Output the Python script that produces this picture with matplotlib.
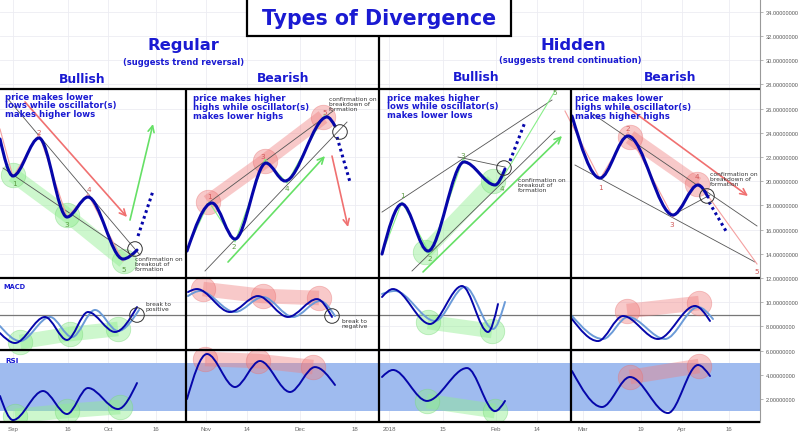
import matplotlib
matplotlib.use('Agg')
import matplotlib.pyplot as plt
from matplotlib.path import Path
from matplotlib.patches import PathPatch, Rectangle

# ---------------- axis ticks ----------------
X_TICKS = [13, 68, 108, 156, 206, 247, 300, 355, 389, 443, 496, 537, 583, 641, 682, 729]
X_LABELS = ['Sep', '16', 'Oct', '16', 'Nov', '14', 'Dec', '18', '2018', '15', 'Feb', '14',
            'Mar', '19', 'Apr', '16']
Y_TICKS = list(range(2, 35, 2))

# ---------------- price curves (x, price) ----------------
RBULL_X = [0, 13, 39, 67, 88, 123, 137]
RBULL_Y = [23.49, 20.43, 23.57, 17.04, 18.69, 13.57, 14.31]
RBEAR_X = [187, 212, 235, 266, 285, 327, 335]
RBEAR_Y = [14.23, 18.20, 15.22, 21.50, 20.02, 25.31, 24.56]
HBULL_X = [382, 402, 428, 464, 495, 505]
HBULL_Y = [13.98, 18.12, 14.23, 21.59, 19.69, 21.01]
HBEAR_X = [572, 600, 628, 673, 698, 708]
HBEAR_Y = [25.39, 20.26, 23.74, 17.21, 19.69, 18.69]

# ---------------- MACD (dark = macd, light = signal) ----------------
MACD_RBULL_X = [0, 15, 45, 67, 88, 115, 137]
MACD_RBULL_Y = [7.45, 6.63, 8.78, 6.88, 9.19, 7.54, 9.60]
SIG_RBULL_X = [0, 20, 50, 72, 95, 118, 139]
SIG_RBULL_Y = [8.03, 6.79, 8.78, 7.12, 9.36, 7.62, 9.36]
MACD_RBEAR_X = [188, 197, 230, 258, 288, 317, 332]
MACD_RBEAR_Y = [10.84, 11.09, 9.19, 10.51, 8.78, 10.26, 8.78]
SIG_RBEAR_X = [188, 200, 235, 263, 293, 320, 335]
SIG_RBEAR_Y = [10.51, 10.93, 9.19, 10.43, 8.78, 10.10, 8.86]
MACD_HBULL_X = [382, 393, 430, 462, 488, 498]
MACD_HBULL_Y = [10.43, 11.09, 8.20, 11.34, 7.54, 9.85]
SIG_HBULL_X = [382, 395, 435, 465, 493, 505]
SIG_HBULL_Y = [10.68, 10.93, 8.45, 11.26, 7.79, 10.02]
MACD_HBEAR_X = [572, 598, 623, 658, 695, 710]
MACD_HBEAR_Y = [8.61, 6.79, 8.86, 6.96, 9.69, 8.45]
SIG_HBEAR_X = [572, 603, 628, 665, 698, 713]
SIG_HBEAR_Y = [8.86, 6.96, 8.78, 6.96, 9.60, 8.61]
MACD_ZERO = 8.95

# ---------------- RSI ----------------
RSI_RBULL_X = [0, 13, 43, 67, 88, 118, 137]
RSI_RBULL_Y = [2.25, 0.26, 2.66, 0.76, 2.91, 1.17, 3.32]
RSI_RBEAR_X = [187, 207, 235, 260, 290, 315, 335]
RSI_RBEAR_Y = [2.0, 5.72, 2.99, 5.14, 2.58, 4.64, 3.16]
RSI_HBULL_X = [382, 393, 427, 467, 495, 505]
RSI_HBULL_Y = [3.82, 4.40, 1.84, 4.56, 1.0, 1.84]
RSI_HBEAR_X = [572, 602, 630, 668, 698, 710]
RSI_HBEAR_Y = [4.31, 1.34, 3.82, 0.84, 4.81, 3.90]
RSI_BAND = (1.0, 4.95)

# ---------------- highlighted pivots ----------------
HL_GREEN = [
    ([13, 67, 124], [20.51, 17.21, 13.40]),
    ([425, 493], [14.15, 20.02]),
    ([20, 70, 118], [6.71, 7.37, 7.79]),
    ([428, 492], [8.36, 7.62]),
    ([15, 67, 120], [0.60, 1.01, 1.34]),
    ([427, 495], [1.83, 1.0]),
]
HL_RED = [
    ([208, 265, 323], [18.28, 21.67, 25.31]),
    ([630, 697], [23.65, 19.77]),
    ([203, 263, 319], [11.09, 10.51, 10.35]),
    ([627, 699], [9.27, 9.93]),
    ([205, 258, 313], [5.31, 5.14, 4.64]),
    ([630, 699], [3.82, 4.73]),
]

# ---------------- trendlines ----------------
TRENDLINES = [
    ([8, 140], [26.79, 13.90]), ([3, 133], [21.09, 13.82]),
    ([207, 333], [18.12, 25.80]), ([205, 347], [12.58, 24.89]),
    ([382, 552], [17.45, 26.71]), ([412, 555], [12.58, 24.15]), ([458, 505], [22.0, 21.17]),
    ([593, 757], [25.55, 16.30]), ([575, 755], [21.34, 13.32]), ([673, 710], [17.21, 18.86]),
]
ZIG_PINK = [
    ([0, 13, 39, 67, 88, 123], [24.31, 20.35, 23.90, 17.04, 18.94, 13.40]),
    ([565, 600, 628, 673, 698, 757], [25.80, 20.18, 24.07, 17.04, 19.93, 13.16]),
]
ZIG_GREEN = [
    ([187, 209, 235, 265, 287, 325], [14.40, 18.28, 14.98, 21.83, 19.85, 25.55]),
    ([382, 402, 430, 463, 497, 555], [13.98, 18.28, 13.98, 21.83, 19.52, 27.45]),
]
ARROWS_RED = [((25, 26.55), (127, 17.04)), ((332, 22.08), (348, 16.21)), ((627, 26.13), (748, 18.78))]
ARROWS_GREEN = [((130, 16.79), (153, 24.73)), ((228, 13.32), (325, 22.08)), ((423, 12.50), (562, 23.74))]
DOTTED = [((138, 15.47), (153, 19.19)), ((337, 23.65), (350, 19.93)),
          ((510, 21.67), (525, 24.89)), ((709, 18.28), (726, 15.88))]
CONFIRM = [(135, 14.40), (340, 24.07), (504, 21.09), (707, 18.78), (137, 8.94), (332, 8.86)]

LABELS_NUM = [
    (14, 19.85, '1', 'g'), (39, 24.07, '2', 'r'), (67, 16.46, '3', 'g'), (89, 19.36, '4', 'r'), (124, 12.74, '5', 'g'),
    (209, 18.78, '1', 'r'), (234, 14.64, '2', 'g'), (263, 22.08, '3', 'r'), (287, 19.44, '4', 'g'), (325, 25.72, '5', 'r'),
    (402, 18.86, '1', 'g'), (430, 13.65, '2', 'g'), (463, 22.17, '3', 'g'), (502, 19.44, '4', 'g'), (555, 27.37, '5', 'g'),
    (600, 19.52, '1', 'r'), (628, 24.40, '2', 'r'), (672, 16.46, '3', 'r'), (697, 20.43, '4', 'r'), (757, 12.58, '5', 'r'),
]
DESCR = [
    (5, 27.40, 'price makes lower\nlows while oscillator(s)\nmakes higher lows'),
    (193, 27.25, 'price makes higher\nhighs while oscillator(s)\nmakes lower highs'),
    (387, 27.32, 'price makes higher\nlows while oscillator(s)\nmakes lower lows'),
    (575, 27.25, 'price makes lower\nhighs while oscillator(s)\nmakes higher highs'),
]
NOTES = [
    (135, 13.82, 'confirmation on\nbreakout of\nformation'),
    (329, 27.04, 'confirmation on\nbreakdown of\nformation'),
    (518, 20.35, 'confirmation on\nbreakout of\nformation'),
    (710, 20.84, 'confirmation on\nbreakdown of\nformation'),
    (146, 10.10, 'break to\npositive'),
    (342, 8.69, 'break to\nnegative'),
]

BLUE = '#0606aa'
LIGHT = '#6b9bd8'
TXT = '#1a1ad2'
GREEN = '#90ee90'
RED = '#f08080'

fig = plt.figure(figsize=(8, 4.35), dpi=100)
ax = fig.add_axes([0, 12 / 435, 760 / 800, 423 / 435])
YMIN, YMAX = 0.10, 35.06
ax.set_xlim(0, 760)
ax.set_ylim(YMIN, YMAX)
for s in ['top', 'left', 'bottom']:
    ax.spines[s].set_visible(False)
ax.spines['right'].set_color('#999999')
ax.spines['right'].set_linewidth(0.8)

ax.set_xticks(X_TICKS)
ax.set_xticklabels(X_LABELS)
ax.yaxis.tick_right()
ax.set_yticks(Y_TICKS)
ax.set_yticklabels(['%.8f' % v for v in Y_TICKS])
ax.tick_params(axis='x', length=0, pad=3, labelsize=4.4, labelcolor='#666666')
ax.tick_params(axis='y', length=2.5, width=0.5, color='#999999', pad=1.5, labelsize=4.1,
               labelcolor='#555555')
for lab in ax.get_xticklabels() + ax.get_yticklabels():
    lab.set_family('Liberation Sans')
ax.grid(True, color='#ececf2', lw=0.6, zorder=0)
ax.set_axisbelow(True)


def wave(xs, ys):
    n = len(xs)

    def slope(i):
        if i == 0:
            return 1.5 * (ys[1] - ys[0]) / (xs[1] - xs[0])
        if i == n - 1:
            return 1.5 * (ys[-1] - ys[-2]) / (xs[-1] - xs[-2])
        return 0.0
    verts = [(xs[0], ys[0])]
    codes = [Path.MOVETO]
    for i in range(n - 1):
        d = (xs[i + 1] - xs[i]) / 3.0
        verts += [(xs[i] + d, ys[i] + slope(i) * d),
                  (xs[i + 1] - d, ys[i + 1] - slope(i + 1) * d),
                  (xs[i + 1], ys[i + 1])]
        codes += [Path.CURVE4] * 3
    return Path(verts, codes)


def draw_wave(xs, ys, color, lw, z):
    ax.add_patch(PathPatch(wave(xs, ys), fill=False, edgecolor=color, lw=lw, zorder=z,
                           capstyle='round'))


# RSI band
ax.fill_between([0, 760], RSI_BAND[0], RSI_BAND[1], color='#9fbbef', lw=0, zorder=1)
# MACD zero line
ax.plot([0, 760], [MACD_ZERO, MACD_ZERO], color='#777777', lw=0.9, zorder=2)

# highlights
for (xs, ys) in HL_GREEN:
    ax.plot(xs, ys, color=GREEN, alpha=0.45, lw=10.5, solid_capstyle='butt', zorder=3)
    ax.scatter(xs, ys, s=310, color=GREEN, alpha=0.45, edgecolors='#78d878', linewidths=0.6, zorder=3)
for (xs, ys) in HL_RED:
    ax.plot(xs, ys, color=RED, alpha=0.42, lw=10.5, solid_capstyle='butt', zorder=3)
    ax.scatter(xs, ys, s=310, color=RED, alpha=0.42, edgecolors='#e87070', linewidths=0.6, zorder=3)

# trendlines and zigzags
for xs, ys in TRENDLINES:
    ax.plot(xs, ys, color='#555555', lw=0.6, zorder=4)
for xs, ys in ZIG_PINK:
    ax.plot(xs, ys, color='#f4a0a0', lw=0.8, zorder=4)
for xs, ys in ZIG_GREEN:
    ax.plot(xs, ys, color='#88ee88', lw=0.8, zorder=4)

# arrows
for (a, b) in ARROWS_RED:
    ax.annotate('', xy=b, xytext=a, zorder=5,
                arrowprops=dict(arrowstyle='->,head_length=0.45,head_width=0.22', color='#f07070',
                                lw=1.2, shrinkA=0, shrinkB=0))
for (a, b) in ARROWS_GREEN:
    ax.annotate('', xy=b, xytext=a, zorder=5,
                arrowprops=dict(arrowstyle='->,head_length=0.45,head_width=0.22', color='#66e066',
                                lw=1.2, shrinkA=0, shrinkB=0))

# price curves
for xs, ys in [(RBULL_X, RBULL_Y), (RBEAR_X, RBEAR_Y), (HBULL_X, HBULL_Y), (HBEAR_X, HBEAR_Y)]:
    draw_wave(xs, ys, BLUE, 2.2, 6)
# MACD
for xs, ys in [(SIG_RBULL_X, SIG_RBULL_Y), (SIG_RBEAR_X, SIG_RBEAR_Y),
               (SIG_HBULL_X, SIG_HBULL_Y), (SIG_HBEAR_X, SIG_HBEAR_Y)]:
    draw_wave(xs, ys, LIGHT, 1.4, 6)
for xs, ys in [(MACD_RBULL_X, MACD_RBULL_Y), (MACD_RBEAR_X, MACD_RBEAR_Y),
               (MACD_HBULL_X, MACD_HBULL_Y), (MACD_HBEAR_X, MACD_HBEAR_Y)]:
    draw_wave(xs, ys, BLUE, 1.4, 6)
# RSI
for xs, ys in [(RSI_RBULL_X, RSI_RBULL_Y), (RSI_RBEAR_X, RSI_RBEAR_Y),
               (RSI_HBULL_X, RSI_HBULL_Y), (RSI_HBEAR_X, RSI_HBEAR_Y)]:
    draw_wave(xs, ys, BLUE, 1.4, 6)

# dotted projections
for (a, b) in DOTTED:
    ax.plot([a[0], b[0]], [a[1], b[1]], color=BLUE, lw=2.2, ls=(0, (0.9, 1.1)),
            dash_capstyle='butt', zorder=6)
# confirmation circles
cx, cy = zip(*CONFIRM)
ax.scatter(cx, cy, s=110, facecolors='none', edgecolors='#333333', linewidths=0.7, zorder=7)

# numbers
for x, y, t, c in LABELS_NUM:
    ax.text(x, y, t, ha='center', va='center', fontsize=5.2,
            color='#5a9a40' if c == 'g' else '#d05858', zorder=8)
for x, y, t in DESCR:
    ax.text(x, y, t, ha='left', va='top', fontsize=6.1, fontweight='bold', color=TXT,
            linespacing=0.95, zorder=9)
for x, y, t in NOTES:
    ax.text(x, y, t, ha='left', va='top', fontsize=4.3, color='#333333', linespacing=1.05, zorder=9)

ax.text(3, 11.34, 'MACD', ha='left', va='center', fontsize=4.8, fontweight='bold', color=TXT, zorder=9)
ax.text(5, 5.22, 'RSI', ha='left', va='center', fontsize=5.2, fontweight='bold', color=TXT, zorder=9)

# frame lines
K = dict(color='black', lw=1.6, zorder=10, solid_capstyle='butt')
for yv in [27.62, 12.0, 6.05, 0.10]:
    ax.plot([0, 760], [yv, yv], clip_on=False, **K)
for xv in [186, 571]:
    ax.plot([xv, xv], [27.62, 0.10], clip_on=False, **K)
ax.plot([379, 379], [32.0, 0.10], clip_on=False, **K)

# title box
ax.add_patch(Rectangle((247, 32.0), 264, 4.0, facecolor='white', edgecolor='black', lw=1.6,
                       zorder=11, clip_on=False))
ax.text(379, 33.49, 'Types of Divergence', ha='center', va='center', fontsize=14.8,
        fontweight='bold', color=TXT, zorder=12)

# headers
ax.text(183, 31.34, 'Regular', ha='center', va='center', fontsize=11.8, fontweight='bold', color=TXT)
ax.text(184, 29.93, '(suggests trend reversal)', ha='center', va='center', fontsize=6,
        fontweight='bold', color=TXT)
ax.text(573, 31.34, 'Hidden', ha='center', va='center', fontsize=11.8, fontweight='bold', color=TXT)
ax.text(570, 30.02, '(suggests trend continuation)', ha='center', va='center', fontsize=6,
        fontweight='bold', color=TXT)
for x, y, t in [(82, 28.53, 'Bullish'), (283, 28.61, 'Bearish'), (476, 28.69, 'Bullish'),
                (670, 28.69, 'Bearish')]:
    ax.text(x, y, t, ha='center', va='center', fontsize=8.9, fontweight='bold', color=TXT)

fig.savefig('out.png', dpi=100)
